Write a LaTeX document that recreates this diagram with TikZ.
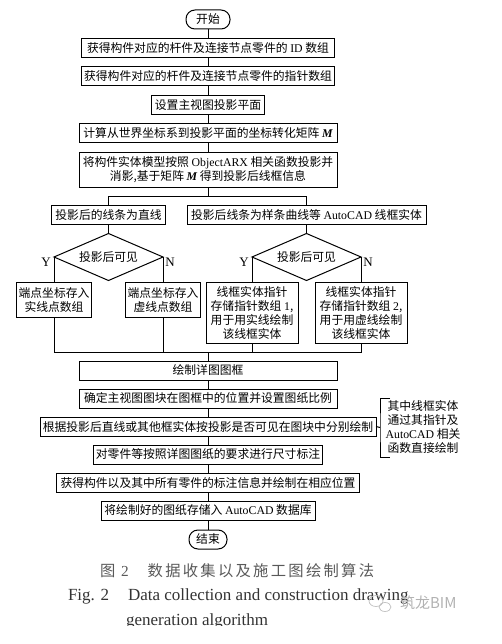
\documentclass[tikz,border=0pt]{standalone}
\usepackage{fontspec}
\setmainfont{Liberation Serif}
\newfontfamily\cjk{Noto Sans CJK SC}
\newfontfamily\cjkwide[LetterSpace=15]{Noto Sans CJK SC}
\newcommand{\lat}[1]{{\rmfamily #1}}
\usetikzlibrary{positioning, shapes.geometric}

\tikzset{
  decide/.style={diamond, aspect=2.3, minimum width=109pt, minimum height=47pt},
  stopnode/.style={rounded corners=9pt, minimum height=19pt},
  caption/.style={draw=none, anchor=west, text=black!80},
  yesno/.style={draw=none, font=\rmfamily\fontsize{13}{15}\selectfont},
}

\begin{document}
\begin{tikzpicture}[x=1pt, y=-1pt, line width=1pt, every node/.style={rectangle, draw, line width=1pt, inner sep=0pt, outer sep=0pt, align=center, minimum height=19pt, font=\cjk\fontsize{11.8}{13.8}\selectfont}]
    \useasboundingbox (0,0) rectangle (501,644);
    \node (start) [stopnode, minimum width=44pt] at (208,19.5) {开始};
    \node (getid) [below=9.5pt of start, minimum width=253pt] {获得构件对应的杆件及连接节点零件的 \lat{ID} 数组};
    \node (getptr) [below=9.5pt of getid, minimum width=253pt] {获得构件对应的杆件及连接节点零件的指针数组};
    \node (plane) [below=9.5pt of getptr, minimum width=113pt] {设置主视图投影平面};
    \node (matrix) [below=9.5pt of plane, minimum width=258pt] {计算从世界坐标系到投影平面的坐标转化矩阵 \lat{\bfseries\itshape M}};
    \node (project) [below=9.5pt of matrix, minimum width=258pt, minimum height=35pt] {将构件实体模型按照 \lat{ObjectARX} 相关函数投影并\\消影,基于矩阵 \lat{\bfseries\itshape M} 得到投影后线框信息};
    \coordinate[below=9pt of project] (split);
    \node (straight) [below=18pt of project, xshift=-99.5pt, minimum width=114pt] {投影后的线条为直线};
    \node (spline) [below=18pt of project, xshift=98.5pt, minimum width=239pt] {投影后线条为样条曲线等 \lat{AutoCAD} 线框实体};
    \node (visone) [decide, below=9pt of straight] {投影后可见};
    \node (vistwo) [decide, below=9pt of spline] {投影后可见};
    \node (yone) [yesno] at (46,262) {Y};
    \node (none) [yesno] at (170,262) {N};
    \node (ytwo) [yesno] at (244,262) {Y};
    \node (ntwo) [yesno] at (368,262) {N};
    \node (ptsolid) [below=2pt of visone, xshift=-54.5pt, minimum width=75pt, minimum height=35pt] {端点坐标存入\\实线点数组};
    \node (ptdashed) [below=2pt of visone, xshift=54.5pt, minimum width=75pt, minimum height=35pt] {端点坐标存入\\虚线点数组};
    \node (ptrone) [below=2pt of vistwo, xshift=-54.5pt, minimum width=92pt, minimum height=61pt] {线框实体指针\\存储指针数组 \lat{1},\\用于用实线绘制\\该线框实体};
    \node (ptrtwo) [below=2pt of vistwo, xshift=54.5pt, minimum width=92pt, minimum height=61pt] {线框实体指针\\存储指针数组 \lat{2},\\用于用虚线绘制\\该线框实体};
    \coordinate (merge) at (208,352);
    \node (frame) [below=9pt of merge, minimum width=258pt] {绘制详图图框};
    \node (place) [below=9pt of frame, minimum width=258pt] {确定主视图图块在图框中的位置并设置图纸比例};
    \node (sketch) [below=9pt of place, minimum width=336pt] {根据投影后直线或其他框实体按投影是否可见在图块中分别绘制};
    \node (dims) [below=9pt of sketch, minimum width=229pt] {对零件等按照详图图纸的要求进行尺寸标注};
    \node (info) [below=9pt of dims, minimum width=303pt] {获得构件以及其中所有零件的标注信息并绘制在相应位置};
    \node (store) [below=9pt of info, minimum width=214pt] {将绘制好的图纸存储入 \lat{AutoCAD} 数据库};
    \node (stop) [stopnode, below=10pt of store, minimum width=38pt] {结束};
    \node (note) [draw=none] at (423,427) {其中线框实体\\通过其指针及\\\lat{AutoCAD} 相关\\函数直接绘制};
    \coordinate (brk) at (380,427.5);
    \coordinate (brkup) at (390,398);
    \coordinate (brkdn) at (390,457);
    \draw (start) -- (getid);
    \draw (getid) -- (getptr);
    \draw (getptr) -- (plane);
    \draw (plane) -- (matrix);
    \draw (matrix) -- (project);
    \draw (project) -- (split);
    \draw (split) -| (straight.north);
    \draw (split) -| (spline.north);
    \draw (straight) -- (visone);
    \draw (spline) -- (vistwo);
    \draw (visone.west) -- (ptsolid.north);
    \draw (visone.east) -- (ptdashed.north);
    \draw (vistwo.west) -- (ptrone.north);
    \draw (vistwo.east) -- (ptrtwo.north);
    \draw (ptsolid.south) |- (merge);
    \draw (ptrtwo.south) |- (merge);
    \draw (ptdashed.south) -- (ptdashed.south |- merge);
    \draw (ptrone.south) -- (ptrone.south |- merge);
    \draw (merge) -- (frame);
    \draw (frame) -- (place);
    \draw (place) -- (sketch);
    \draw (sketch) -- (dims);
    \draw (dims) -- (info);
    \draw (info) -- (store);
    \draw (store) -- (stop);
    \draw (sketch.east) -- (brk);
    \draw (brkup) -| (brk) |- (brkdn);
    % caption and watermark
    \node (capzh) [caption, text=black!65, font=\cjkwide\fontsize{15.3}{18}\selectfont] at (100,571) {图 \lat{2}\hspace{19pt}数据收集以及施工图绘制算法};
    \node (capen) [caption, font=\fontsize{17}{20}\selectfont] at (68,596) {Fig. 2\hspace{19pt}Data collection and construction drawing};
    \node (capentwo) [caption, font=\fontsize{17}{20}\selectfont] at (126,621) {generation algorithm};
    \fill[white] (0,625.5) rectangle (501,644);
    \node (mark) [draw=none, anchor=west, text=black!30, font=\cjk\fontsize{15}{18}\selectfont] at (400,603) {筑龙BIM};
    \draw[black!25, line width=0.7pt] (376,601) ellipse (7pt and 5.5pt);
    \draw[black!25, line width=0.7pt] (385,607) ellipse (6pt and 4.5pt);
\end{tikzpicture}
\end{document}
